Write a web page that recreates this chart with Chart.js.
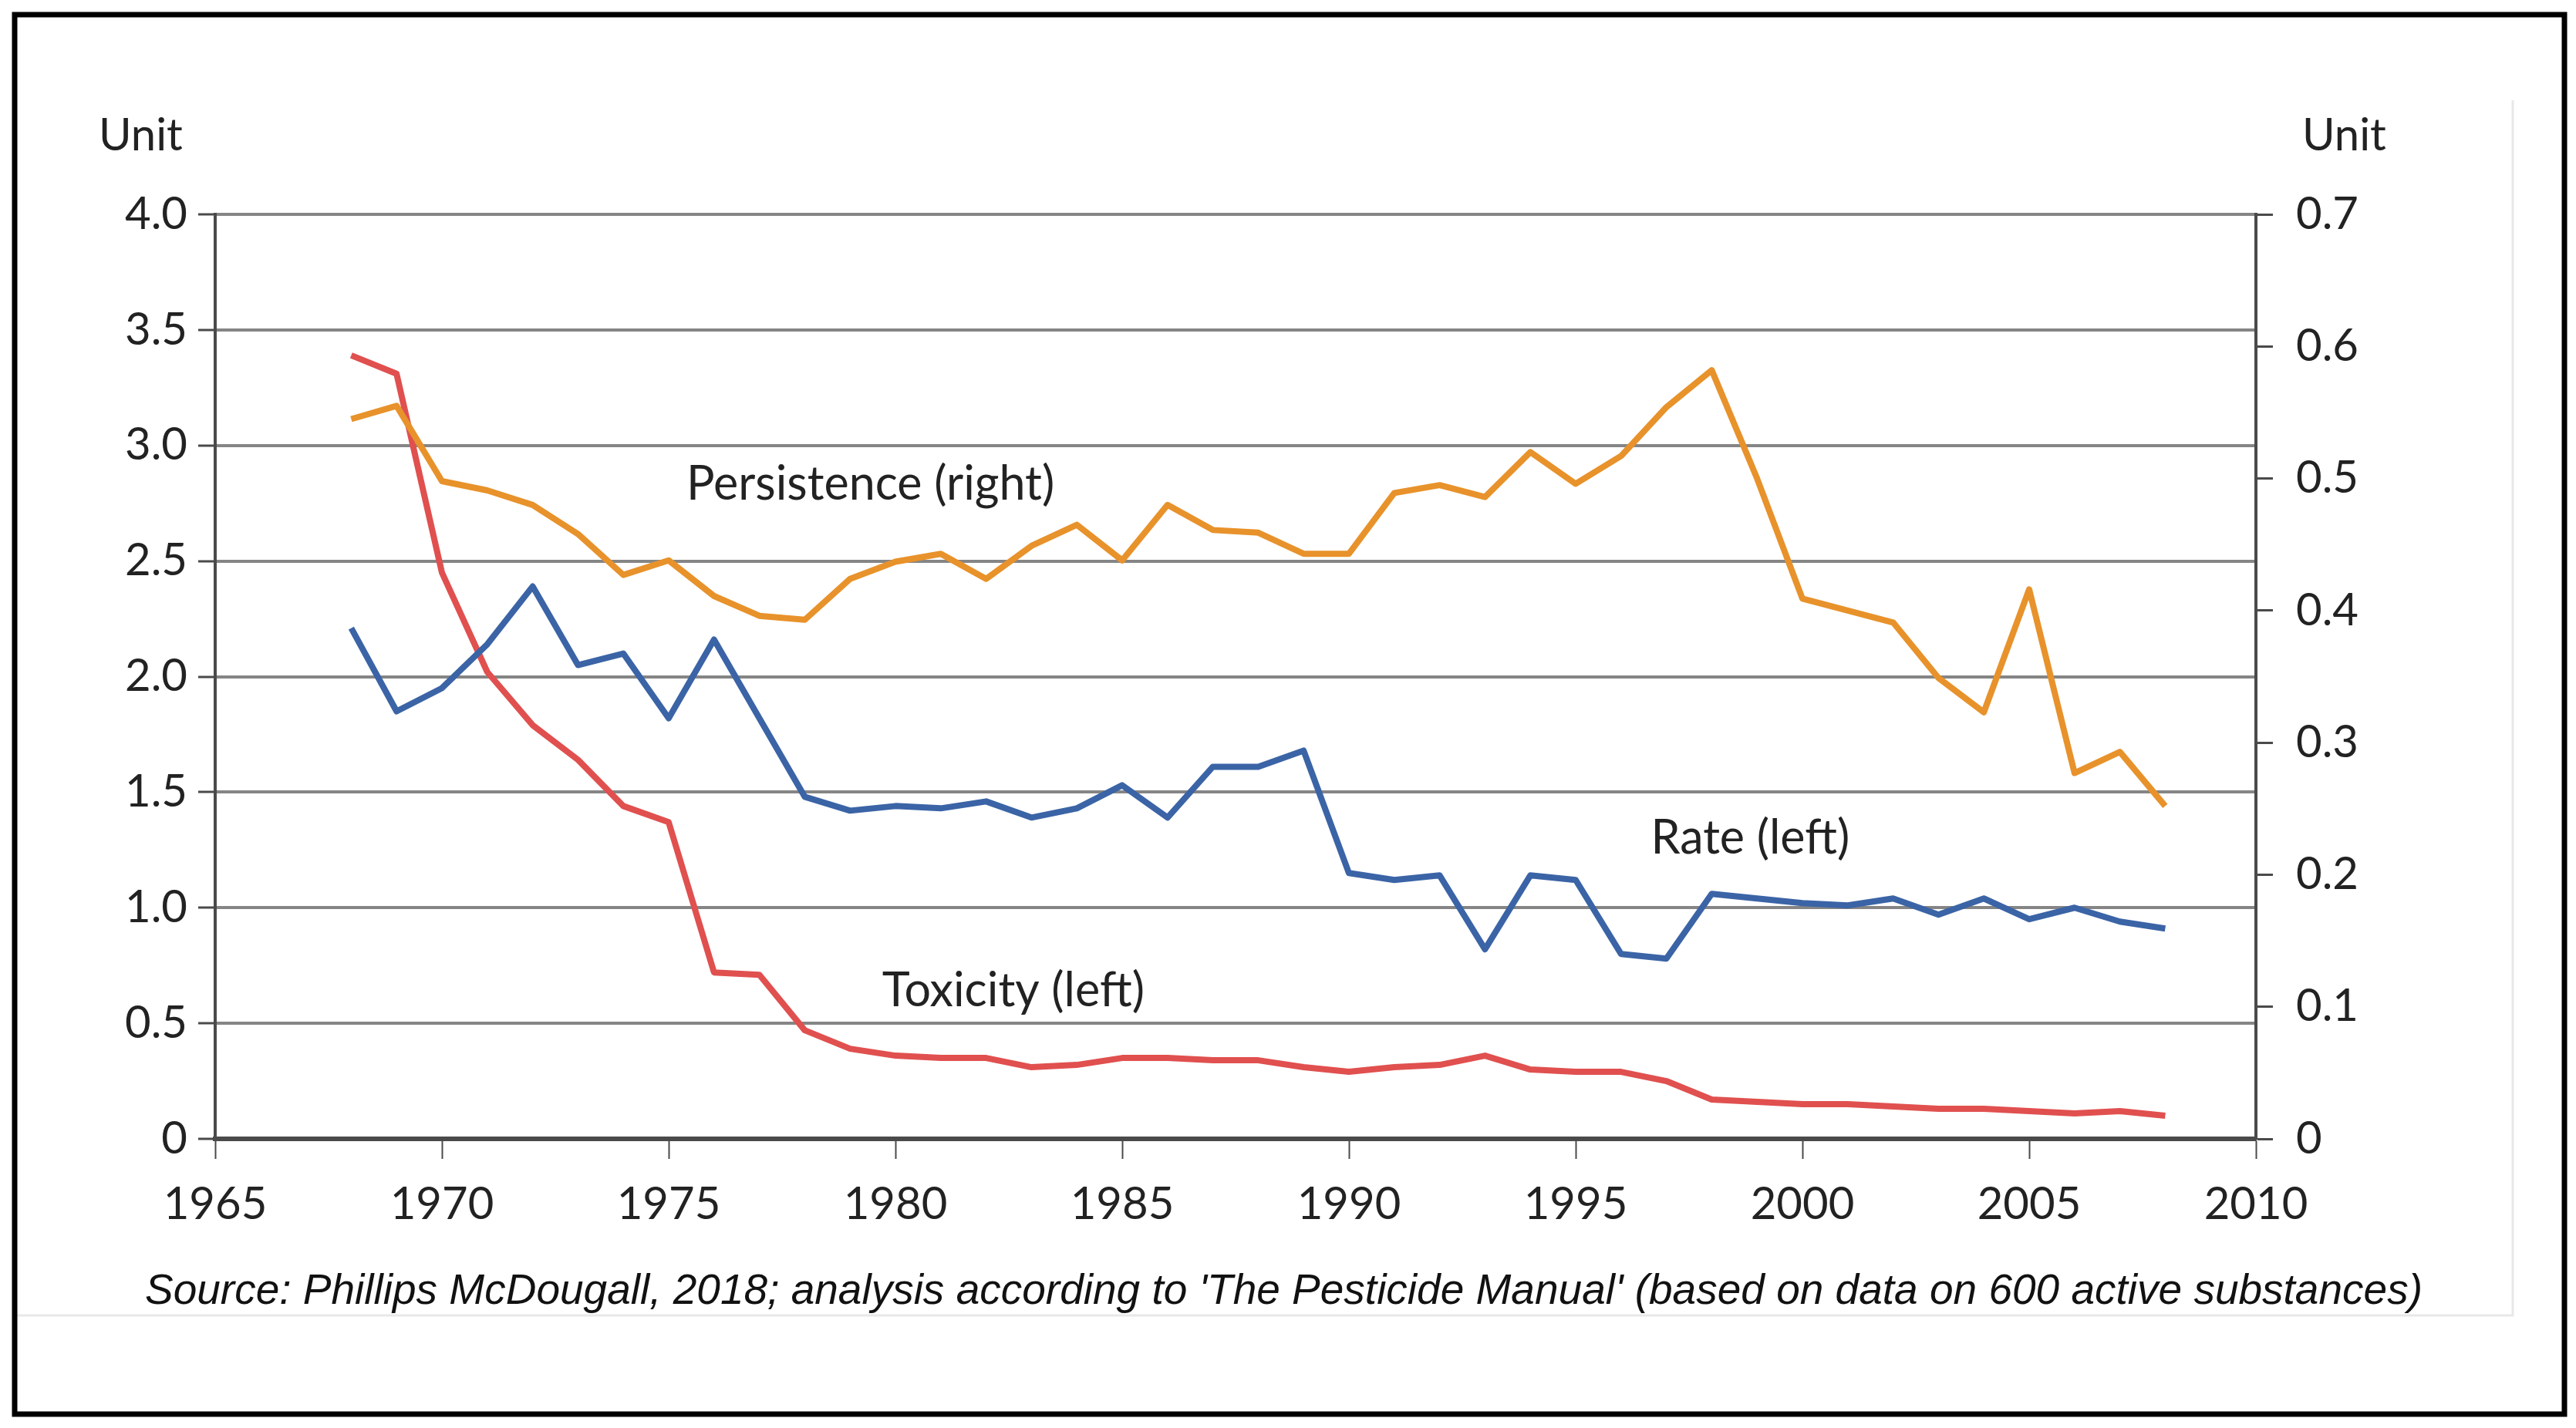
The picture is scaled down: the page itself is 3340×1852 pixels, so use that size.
<!DOCTYPE html>
<html>
<head>
<meta charset="utf-8">
<script src="https://cdn.jsdelivr.net/npm/chart.js@4.4.1/dist/chart.umd.min.js"></script>
<style>
  html, body { margin: 0; padding: 0; background: #fff; }
  #wrap { position: relative; width: 3340px; height: 1852px; }
</style>
</head>
<body>
<div id="wrap"><canvas id="chart" width="3340" height="1852"></canvas></div>
<script>
// values
const years = [1968, 1969, 1970, 1971, 1972, 1973, 1974, 1975, 1976, 1977,
  1978, 1979, 1980, 1981, 1982, 1983, 1984, 1985, 1986, 1987,
  1988, 1989, 1990, 1991, 1992, 1993, 1994, 1995, 1996, 1997,
  1998, 1999, 2000, 2001, 2002, 2003, 2004, 2005, 2006, 2007, 2008];

const toxicity = [3.39, 3.31, 2.45, 2.02, 1.79, 1.64, 1.44, 1.37, 0.72, 0.71,
  0.47, 0.39, 0.36, 0.35, 0.35, 0.31, 0.32, 0.35, 0.35, 0.34,
  0.34, 0.31, 0.29, 0.31, 0.32, 0.36, 0.30, 0.29, 0.29, 0.25,
  0.17, 0.16, 0.15, 0.15, 0.14, 0.13, 0.13, 0.12, 0.11, 0.12, 0.10];

const rate = [2.21, 1.85, 1.95, 2.14, 2.39, 2.05, 2.10, 1.82, 2.16, 1.82,
  1.48, 1.42, 1.44, 1.43, 1.46, 1.39, 1.43, 1.53, 1.39, 1.61,
  1.61, 1.68, 1.15, 1.12, 1.14, 0.82, 1.14, 1.12, 0.80, 0.78,
  1.06, 1.04, 1.02, 1.01, 1.04, 0.97, 1.04, 0.95, 1.00, 0.94, 0.91];

const persistence = [0.545, 0.555, 0.498, 0.491, 0.480, 0.458, 0.427, 0.438, 0.411, 0.396,
  0.393, 0.424, 0.437, 0.443, 0.424, 0.449, 0.465, 0.438, 0.480, 0.461,
  0.459, 0.443, 0.443, 0.489, 0.495, 0.486, 0.520, 0.496, 0.517, 0.554,
  0.582, 0.500, 0.409, 0.400, 0.391, 0.349, 0.323, 0.416, 0.277, 0.293, 0.252];

const seriesLabels = ["Toxicity (left)", "Rate (left)", "Persistence (right)"];
const xTicks = [1965, 1970, 1975, 1980, 1985, 1990, 1995, 2000, 2005, 2010];
const leftTicks = [0, 0.5, 1.0, 1.5, 2.0, 2.5, 3.0, 3.5, 4.0];
const rightTicks = [0, 0.1, 0.2, 0.3, 0.4, 0.5, 0.6, 0.7];
const sourceNote = "Source: Phillips McDougall, 2018; analysis according to 'The Pesticide Manual' (based on data on 600 active substances)";

function pts(vals) {
  return years.map((y, i) => ({ x: y, y: vals[i] }));
}

function fmt(v) {
  return v === 0 ? "0" : v.toFixed(1);
}

const FONT = "Lato, 'Open Sans', sans-serif";
const inkColor = "#222";
const axisColor = "#4a4a4a";

// frame, unit labels, in-chart series names and source line
const decorations = {
  id: "decorations",
  afterDraw(chart) {
    const ctx = chart.ctx;
    const x = chart.scales.x, yl = chart.scales.y;
    ctx.save();
    // faint picture edge
    ctx.strokeStyle = "#e8e8e8";
    ctx.lineWidth = 3;
    ctx.beginPath();
    ctx.moveTo(20, 1706);
    ctx.lineTo(3258, 1706);
    ctx.lineTo(3258, 130);
    ctx.stroke();
    // outer black frame
    ctx.strokeStyle = "#000";
    ctx.lineWidth = 7;
    ctx.strokeRect(19, 19, 3306, 1815);

    ctx.fillStyle = inkColor;
    ctx.font = "58px " + FONT;
    ctx.textBaseline = "middle";
    ctx.textAlign = "left";
    ctx.fillText("Unit", 128, 176);
    ctx.fillText("Unit", 2985, 176);

    ctx.font = "61px " + FONT;
    ctx.textAlign = "center";
    ctx.fillText(seriesLabels[2], x.getPixelForValue(1979.45), yl.getPixelForValue(2.83));
    ctx.fillText(seriesLabels[0], x.getPixelForValue(1982.6), yl.getPixelForValue(0.64));
    ctx.fillText(seriesLabels[1], x.getPixelForValue(1998.85), yl.getPixelForValue(1.30));

    ctx.font = "italic 55px 'Liberation Sans', Arial, sans-serif";
    ctx.fillStyle = "#111";
    ctx.textAlign = "left";
    ctx.fillText(sourceNote, 188, 1676, 2960);
    ctx.restore();
  }
};

const ctx = document.getElementById("chart").getContext("2d");
new Chart(ctx, {
  type: "line",
  data: {
    datasets: [
      { label: seriesLabels[2], data: pts(persistence), yAxisID: "y2",
        borderColor: "#e8922b", borderWidth: 8 },
      { label: seriesLabels[1], data: pts(rate), yAxisID: "y",
        borderColor: "#3b64a6", borderWidth: 8 },
      { label: seriesLabels[0], data: pts(toxicity), yAxisID: "y",
        borderColor: "#e0504f", borderWidth: 8 }
    ]
  },
  options: {
    responsive: false,
    animation: false,
    devicePixelRatio: 1,
    layout: { padding: { top: 278, left: 0, right: 0, bottom: 0 } },
    elements: {
      point: { radius: 0 },
      line: { tension: 0, borderJoinStyle: "round", borderCapStyle: "butt" }
    },
    plugins: { legend: { display: false }, tooltip: { enabled: false } },
    scales: {
      x: {
        type: "linear", min: 1965, max: 2010,
        afterBuildTicks: s => { s.ticks = xTicks.map(v => ({ value: v })); },
        afterFit: s => { s.height = 375; },
        grid: { drawOnChartArea: false, drawTicks: true, tickLength: 26,
          tickColor: axisColor, tickWidth: 2 },
        border: { display: true, color: axisColor, width: 6 },
        ticks: { color: inkColor, font: { size: 58, family: FONT }, padding: 24,
          maxRotation: 0, autoSkip: false, callback: v => String(v) }
      },
      y: {
        position: "left", min: 0, max: 4,
        afterBuildTicks: s => { s.ticks = leftTicks.map(v => ({ value: v })); },
        afterFit: s => { s.width = 279; },
        grid: { color: "#858585", lineWidth: 4, drawTicks: true, tickLength: 22,
          tickColor: axisColor, tickWidth: 3 },
        border: { display: true, color: axisColor, width: 4 },
        ticks: { color: inkColor, font: { size: 58, family: FONT }, padding: 14,
          autoSkip: false, callback: v => fmt(v) }
      },
      y2: {
        position: "right", min: 0, max: 0.7,
        afterBuildTicks: s => { s.ticks = rightTicks.map(v => ({ value: v })); },
        afterFit: s => { s.width = 415; },
        grid: { drawOnChartArea: false, drawTicks: true, tickLength: 22,
          tickColor: axisColor, tickWidth: 3 },
        border: { display: true, color: axisColor, width: 4 },
        ticks: { color: inkColor, font: { size: 58, family: FONT }, padding: 30,
          autoSkip: false, callback: v => fmt(v) }
      }
    }
  },
  plugins: [decorations]
});
</script>
</body>
</html>
